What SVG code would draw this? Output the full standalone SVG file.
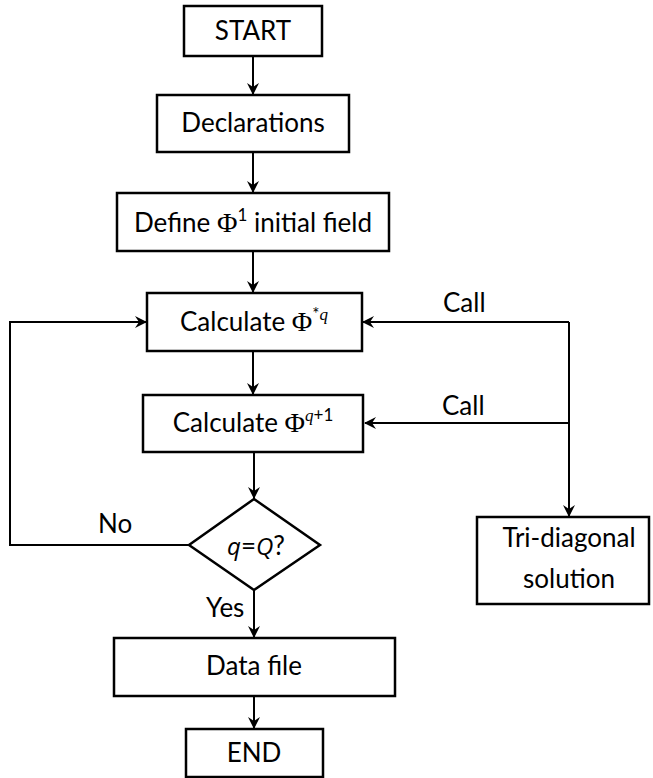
<svg xmlns="http://www.w3.org/2000/svg" width="653" height="778" viewBox="0 0 653 778">
<defs>
<style>
.box{fill:#fff;stroke:#000;stroke-width:2.5}
.ln{fill:none;stroke:#000;stroke-width:2}
.t{font-family:Lato,"Liberation Sans",sans-serif;font-size:26px;fill:#000;text-anchor:middle}
.lb{font-family:Lato,"Liberation Sans",sans-serif;font-size:26px;fill:#000}
.phi{font-family:"Liberation Serif",serif;font-size:28px}
.sup{font-size:17px}
.it{font-style:italic;font-family:"Liberation Serif",serif}
.si{font-style:italic;font-family:"Open Sans","Liberation Sans",sans-serif;font-size:24px}
</style>
<marker id="ah" viewBox="0 0 12 12" refX="11" refY="6" markerWidth="12" markerHeight="12" markerUnits="userSpaceOnUse" orient="auto">
<path d="M0,0 L12,6 L0,12 L4,6 Z" fill="#000"/>
</marker>
</defs>
<g id="connectors">
<line class="ln" x1="253" y1="56" x2="253" y2="94" marker-end="url(#ah)"/>
<line class="ln" x1="253" y1="152" x2="253" y2="192" marker-end="url(#ah)"/>
<line class="ln" x1="253" y1="251" x2="253" y2="292" marker-end="url(#ah)"/>
<line class="ln" x1="253" y1="351" x2="253" y2="394" marker-end="url(#ah)"/>
<line class="ln" x1="254" y1="452" x2="254" y2="498" marker-end="url(#ah)"/>
<line class="ln" x1="254" y1="590" x2="254" y2="637" marker-end="url(#ah)"/>
<line class="ln" x1="254" y1="696" x2="254" y2="728" marker-end="url(#ah)"/>
<polyline class="ln" points="189,545 10,545 10,322 146,322" marker-end="url(#ah)"/>
<line class="ln" x1="569" y1="322" x2="363" y2="322" marker-end="url(#ah)"/>
<line class="ln" x1="569" y1="322" x2="569" y2="516" marker-end="url(#ah)"/>
<line class="ln" x1="569" y1="423" x2="365" y2="423" marker-end="url(#ah)"/>
<text class="lb" x="443" y="312">Call</text>
<text class="lb" x="442" y="415">Call</text>
<text class="lb" x="98" y="533">No</text>
<text class="lb" x="206" y="617">Yes</text>
</g>
<g id="start">
<rect class="box" x="184" y="6" width="138" height="50"/>
<text class="t" x="253" y="40">START</text>
</g>
<g id="declarations">
<rect class="box" x="157" y="95" width="192" height="57"/>
<text class="t" x="253" y="132">Declarations</text>
</g>
<g id="define">
<rect class="box" x="117" y="193" width="272" height="58"/>
<text class="t" x="253" y="232">Define <tspan class="phi">Φ</tspan><tspan class="sup" dy="-11">1</tspan><tspan dy="11"> initial field</tspan></text>
</g>
<g id="calc-star">
<rect class="box" x="147" y="293" width="215" height="58"/>
<text class="t" x="254" y="331">Calculate <tspan class="phi">Φ</tspan><tspan class="sup" dy="-11">*</tspan><tspan class="sup it">q</tspan></text>
</g>
<g id="calc-next">
<rect class="box" x="143" y="395" width="220" height="57"/>
<text class="t" x="253" y="432">Calculate <tspan class="phi">Φ</tspan><tspan class="sup it" dy="-11">q</tspan><tspan class="sup">+1</tspan></text>
</g>
<g id="decision">
<polygon class="box" points="254,499 320,545 254,590 189,545"/>
<text class="t" x="256" y="555"><tspan class="si">q</tspan>=<tspan class="si">Q</tspan>?</text>
</g>
<g id="tridiagonal">
<rect class="box" x="477" y="517" width="172" height="87"/>
<text class="t" x="569" y="547">Tri-diagonal</text>
<text class="t" x="569" y="588">solution</text>
</g>
<g id="datafile">
<rect class="box" x="114" y="638" width="281" height="58"/>
<text class="t" x="254" y="675">Data file</text>
</g>
<g id="end">
<rect class="box" x="186" y="729" width="137" height="48"/>
<text class="t" x="254" y="762">END</text>
</g>
</svg>
